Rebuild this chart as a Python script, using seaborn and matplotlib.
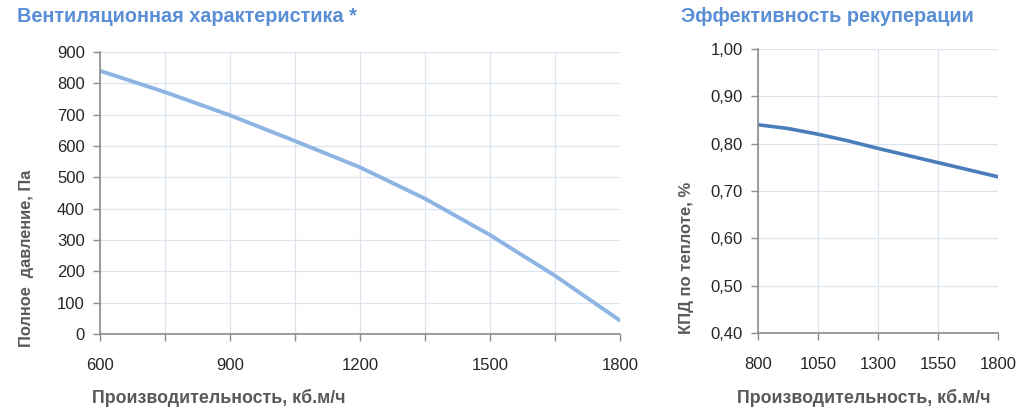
import matplotlib
matplotlib.use("Agg")
import matplotlib.pyplot as plt
import seaborn as sns
import pandas as pd
from matplotlib.ticker import MultipleLocator, FuncFormatter

# вентиляционная характеристика
flow_a = [600, 750, 900, 1050, 1200, 1350, 1500, 1650, 1800]
pressure = [840, 772, 698, 616, 532, 432, 316, 186, 43]

# эффективность рекуперации
flow_b = [800, 925, 1050, 1175, 1300, 1550, 1800]
efficiency = [0.840, 0.832, 0.820, 0.806, 0.790, 0.760, 0.730]
ticks_b = [800, 1050, 1300, 1550, 1800]

title_a = "Вентиляционная характеристика *"
title_b = "Эффективность рекуперации"
xlab = "Производительность, кб.м/ч"
ylab_a = "Полное  давление, Па"
ylab_b = "КПД по теплоте, %"

sns.set_theme(style="white")
plt.rcParams['font.family'] = ['Liberation Sans', 'DejaVu Sans']

blue_title = "#5a8fd6"
gray_lab = "#595959"
grid_c = "#dde4f0"
spine_c = "#8c8c8c"

fig = plt.figure(figsize=(10.33, 4.16), dpi=100)
ax1 = fig.add_axes([100/1033, 82/416, 520/1033, 282/416])
ax2 = fig.add_axes([758/1033, 83/416, 240/1033, 284/416])

df_a = pd.DataFrame({"q": flow_a, "p": pressure})
df_b = pd.DataFrame({"q": flow_b, "e": efficiency})
sns.lineplot(data=df_a, x="q", y="p", ax=ax1, color="#8db4e3", lw=2.8)
sns.lineplot(data=df_b, x="q", y="e", ax=ax2, color="#4a7ebb", lw=2.6)

ax1.set_xlim(600, 1800)
ax1.set_ylim(0, 900)
ax1.xaxis.set_major_locator(MultipleLocator(150))
ax1.yaxis.set_major_locator(MultipleLocator(100))
ax1.xaxis.set_major_formatter(FuncFormatter(lambda v, p: f"{v:.0f}" if round(v) % 300 == 0 else ""))

ax2.set_xlim(800, 1800)
ax2.set_ylim(0.4, 1.0)
ax2.set_xticks(ticks_b)
ax2.yaxis.set_major_locator(MultipleLocator(0.1))
ax2.yaxis.set_major_formatter(FuncFormatter(lambda v, p: f"{v:.2f}".replace(".", ",")))

for ax in (ax1, ax2):
    ax.grid(True, color=grid_c, lw=0.9)
    ax.set_axisbelow(True)
    for s in ("top", "right"):
        ax.spines[s].set_visible(False)
    for s in ("left", "bottom"):
        ax.spines[s].set_color(spine_c)
        ax.spines[s].set_linewidth(1.2)
    ax.tick_params(axis="both", which="major", direction="out", length=5,
                   width=1, color=spine_c, labelsize=12, labelcolor="#262626",
                   bottom=True, left=True)
    ax.set_xlabel("")
    ax.set_ylabel("")
ax1.tick_params(axis="x", pad=12)
ax2.tick_params(axis="x", pad=12)
ax1.tick_params(axis="y", pad=6)
ax2.tick_params(axis="y", pad=6)

fig.text(17/1033, 1 - 16/416, title_a, color=blue_title, fontsize=14.3,
         fontweight="bold", va="center", ha="left")
fig.text(681/1033, 1 - 16/416, title_b, color=blue_title, fontsize=14.3,
         fontweight="bold", va="center", ha="left")

fig.text(219/1033, 1 - 398/416, xlab, color=gray_lab, fontsize=12.8,
         fontweight="bold", ha="center", va="center")
fig.text(864/1033, 1 - 398/416, xlab, color=gray_lab, fontsize=12.8,
         fontweight="bold", ha="center", va="center")

fig.text(27/1033, 1 - 258/416, ylab_a, color=gray_lab, fontsize=11.8,
         fontweight="bold", rotation=90, ha="center", va="center")
fig.text(687/1033, 1 - 258/416, ylab_b, color=gray_lab, fontsize=12,
         fontweight="bold", rotation=90, ha="center", va="center")

fig.savefig("out.png", dpi=100)
